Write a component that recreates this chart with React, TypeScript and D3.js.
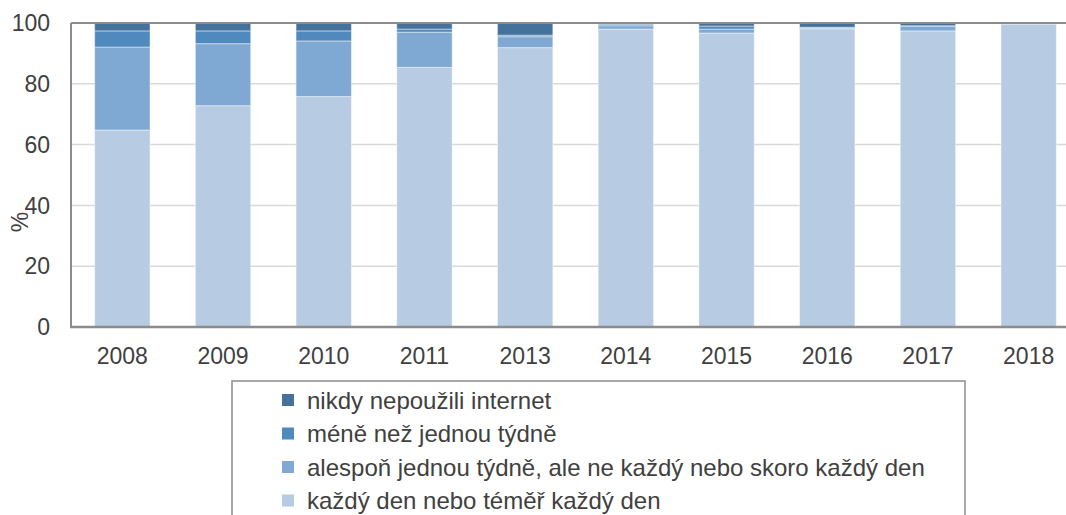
import * as d3 from "d3";
import { useRef, useEffect } from "react";

// years on the x axis
const years = ["2008", "2009", "2010", "2011", "2013", "2014", "2015", "2016", "2017", "2018"];

// series, bottom to top (% of internet users)
const kazdyDen = [64.8, 72.8, 75.8, 85.4, 91.9, 98.0, 96.7, 98.1, 97.4, 99.6];
const alesponTydne = [27.3, 20.4, 18.3, 11.6, 3.6, 1.1, 1.3, 0.3, 1.6, 0.4];
const meneNezTydne = [5.3, 4.2, 3.3, 1.0, 0.5, 0.5, 1.0, 0.2, 0.1, 0.0];
const nikdy = [2.6, 2.6, 2.6, 2.0, 4.0, 0.4, 1.0, 1.4, 0.9, 0.0];

const seriesNames = [
  "každý den nebo téměř každý den",
  "alespoň jednou týdně, ale ne každý nebo skoro každý den",
  "méně než jednou týdně",
  "nikdy nepoužili internet",
];
const seriesColors = ["#b7cbe3", "#7fa9d3", "#4f89bd", "#44729d"];

const yTicks = [0, 20, 40, 60, 80, 100];

export default function App() {
  const ref = useRef<SVGSVGElement>(null);

  const width = 1066;
  const height = 515;
  const marginLeft = 72;
  const plotRight = 1079;
  const marginTop = 23;
  const plotBottom = 327;
  const fontFamily = "Liberation Sans, Arial, sans-serif";
  const textColor = "#404040";

  useEffect(() => {
    const svg = d3.select(ref.current);
    svg.selectAll("*").remove();

    const rows = years.map((year, i) => ({
      year,
      s0: kazdyDen[i],
      s1: alesponTydne[i],
      s2: meneNezTydne[i],
      s3: nikdy[i],
    }));
    const keys = ["s0", "s1", "s2", "s3"];
    const stacked = d3.stack<any>().keys(keys)(rows);

    const x = d3.scaleBand()
      .domain(years)
      .range([marginLeft, plotRight])
      .paddingInner(0.45)
      .paddingOuter(0.225);

    const y = d3.scaleLinear()
      .domain([0, 100])
      .range([plotBottom, marginTop]);

    // gridlines
    svg.append("g")
      .selectAll("line")
      .data(yTicks.filter(t => t > 0 && t < 100))
      .join("line")
        .attr("x1", marginLeft)
        .attr("x2", plotRight)
        .attr("y1", d => y(d))
        .attr("y2", d => y(d))
        .attr("stroke", "#d9d9d9")
        .attr("stroke-width", 1.5);

    // bars
    svg.append("g")
      .selectAll("g")
      .data(stacked)
      .join("g")
        .attr("fill", (d, i) => seriesColors[i])
      .selectAll("rect")
      .data(d => d)
      .join("rect")
        .attr("x", d => x(d.data.year)!)
        .attr("y", d => y(d[1]))
        .attr("width", x.bandwidth())
        .attr("height", d => Math.max(0, y(d[0]) - y(d[1])))
        .attr("stroke", "#ffffff")
        .attr("stroke-opacity", 0.45)
        .attr("stroke-width", 1);

    // frame: top line, left axis, bottom axis
    svg.append("line")
      .attr("x1", marginLeft - 1).attr("x2", plotRight)
      .attr("y1", marginTop).attr("y2", marginTop)
      .attr("stroke", "#8c8c8c").attr("stroke-width", 2);
    svg.append("line")
      .attr("x1", marginLeft - 1).attr("x2", marginLeft - 1)
      .attr("y1", marginTop).attr("y2", plotBottom)
      .attr("stroke", "#8c8c8c").attr("stroke-width", 2);
    svg.append("line")
      .attr("x1", marginLeft - 2).attr("x2", plotRight)
      .attr("y1", plotBottom).attr("y2", plotBottom)
      .attr("stroke", "#8c8c8c").attr("stroke-width", 2.5);

    // y tick labels
    svg.append("g")
      .selectAll("text")
      .data(yTicks)
      .join("text")
        .attr("x", 50)
        .attr("y", d => y(d))
        .attr("dy", "0.36em")
        .attr("text-anchor", "end")
        .attr("font-family", fontFamily)
        .attr("font-size", 23)
        .attr("fill", textColor)
        .text(d => d);

    // y axis title
    svg.append("text")
      .attr("transform", "translate(20,222) rotate(-90)")
      .attr("text-anchor", "middle")
      .attr("dy", "0.36em")
      .attr("font-family", fontFamily)
      .attr("font-size", 23)
      .attr("fill", textColor)
      .text("%");

    // x tick labels
    svg.append("g")
      .selectAll("text")
      .data(years)
      .join("text")
        .attr("x", d => x(d)! + x.bandwidth() / 2)
        .attr("y", 356)
        .attr("dy", "0.36em")
        .attr("text-anchor", "middle")
        .attr("font-family", fontFamily)
        .attr("font-size", 23)
        .attr("fill", textColor)
        .text(d => d);

    // legend
    const legend = svg.append("g");
    legend.append("rect")
      .attr("x", 232)
      .attr("y", 381)
      .attr("width", 733)
      .attr("height", 160)
      .attr("fill", "none")
      .attr("stroke", "#8c8c8c")
      .attr("stroke-width", 1.5);

    const legendOrder = [3, 2, 1, 0];
    const item = legend.selectAll("g.item")
      .data(legendOrder)
      .join("g")
        .attr("class", "item")
        .attr("transform", (d, i) => `translate(282,${400 + i * 33.5})`);
    item.append("rect")
      .attr("x", 0)
      .attr("y", -6)
      .attr("width", 12)
      .attr("height", 12)
      .attr("fill", d => seriesColors[d]);
    item.append("text")
      .attr("x", 25)
      .attr("y", 0)
      .attr("dy", "0.36em")
      .attr("font-family", fontFamily)
      .attr("font-size", 24)
      .attr("fill", textColor)
      .text(d => seriesNames[d]);
  }, []);

  return (
    <svg
      ref={ref}
      width={width}
      height={height}
      style={{ position: "absolute", left: 0, top: 0, background: "#fff" }}
    />
  );
}
